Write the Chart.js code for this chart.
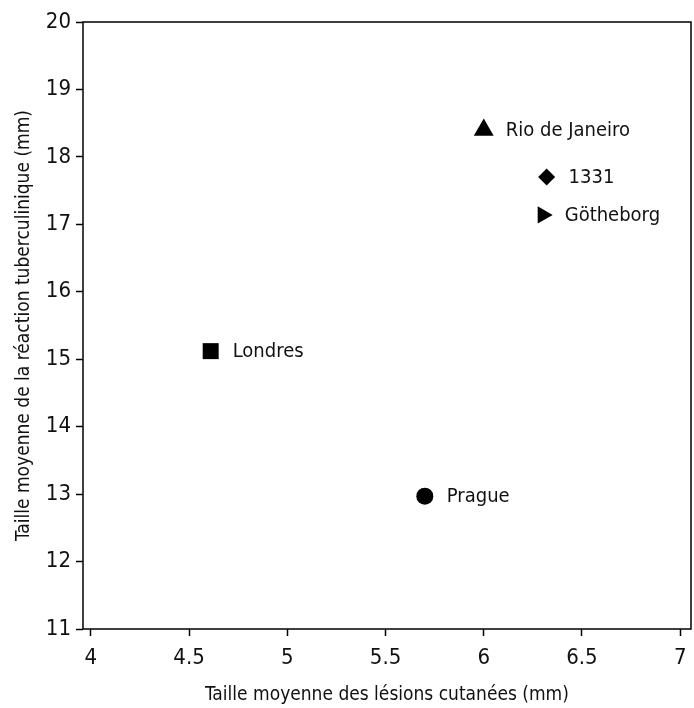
<!DOCTYPE html>
<html>
<head>
<meta charset="utf-8">
<script src="https://cdn.jsdelivr.net/npm/chart.js@4/dist/chart.umd.min.js"></script>
<style>
  body { margin: 0; background: #fff; }
  canvas { display: block; }
</style>
</head>
<body>
<canvas id="scatter" width="694" height="708"></canvas>
<script>
// data
var sites = ['Rio de Janeiro', '1331', 'Götheborg', 'Londres', 'Prague'];
var lesionSize = [6.0, 6.32, 6.30, 4.61, 5.70];     // x, mm
var reactionSize = [18.4, 17.7, 17.14, 15.12, 12.97]; // y, mm
var xTicks = [4, 4.5, 5, 5.5, 6, 6.5, 7];
var yTicks = [11, 12, 13, 14, 15, 16, 17, 18, 19, 20];

var markers = ['triangle', 'rectRot', 'triangle', 'rect', 'circle'];
var markerRot = [0, 0, 90, 0, 0];
var markerSize = [11.5, 8.5, 10, 11.3, 8.5];

var FONT = '"Liberation Sans Narrow", "Arial Narrow", "DejaVu Sans Condensed", sans-serif';

var points = sites.map(function (s, i) {
    return { x: lesionSize[i], y: reactionSize[i] };
});

// box round the plot + site names next to markers
var extras = {
    id: 'extras',
    afterDatasetsDraw: function (chart) {
        var c = chart.ctx, a = chart.chartArea;
        var xs = chart.scales.x, ys = chart.scales.y;
        c.save();
        c.strokeStyle = '#000';
        c.lineWidth = 1.5;
        c.strokeRect(a.left, a.top, a.right - a.left, a.bottom - a.top);
        c.fillStyle = '#111';
        c.font = '20px ' + FONT;
        c.textBaseline = 'middle';
        for (var i = 0; i < sites.length; i++) {
            c.fillText(sites[i], xs.getPixelForValue(lesionSize[i]) + 22, ys.getPixelForValue(reactionSize[i]) + 1);
        }
        c.restore();
    }
};

function plain(v) { return String(v); }

var ctx = document.getElementById('scatter').getContext('2d');
var chart = new Chart(ctx, {
    type: 'scatter',
    data: {
        datasets: [{
            data: points,
            pointStyle: markers,
            rotation: markerRot,
            radius: markerSize,
            hoverRadius: markerSize,
            backgroundColor: '#000',
            borderColor: '#000',
            borderWidth: 0
        }]
    },
    options: {
        responsive: false,
        animation: false,
        layout: { autoPadding: false, padding: { top: 22, right: 3, left: 0, bottom: 0 } },
        plugins: {
            legend: { display: false },
            tooltip: { enabled: false }
        },
        scales: {
            x: {
                type: 'linear',
                min: 3.96,
                max: 7.055,
                afterBuildTicks: function (s) { s.ticks = xTicks.map(function (v) { return { value: v }; }); },
                afterFit: function (s) { s.height = 79; s.paddingLeft = 0; s.paddingRight = 0; },
                grid: { drawOnChartArea: false, tickLength: 7, color: '#000', tickWidth: 1.5 },
                border: { display: false },
                ticks: { color: '#111', padding: 9, font: { family: FONT, size: 22 }, maxRotation: 0, callback: plain },
                title: {
                    display: true,
                    text: 'Taille moyenne des lésions cutanées (mm)',
                    color: '#111',
                    font: { family: FONT, size: 19 },
                    padding: { top: 0, bottom: 2 }
                }
            },
            y: {
                type: 'linear',
                min: 11,
                max: 20,
                afterBuildTicks: function (s) { s.ticks = yTicks.map(function (v) { return { value: v }; }); },
                afterFit: function (s) { s.width = 83; s.paddingTop = 0; s.paddingBottom = 0; },
                grid: { drawOnChartArea: false, tickLength: 7, color: '#000', tickWidth: 1.5 },
                border: { display: false },
                ticks: { color: '#111', padding: 5, font: { family: FONT, size: 22 }, callback: plain },
                title: {
                    display: true,
                    text: 'Taille moyenne de la réaction tuberculinique (mm)',
                    color: '#111',
                    font: { family: FONT, size: 19 },
                    padding: { top: 13, bottom: 0 }
                }
            }
        }
    },
    plugins: [extras]
});
</script>
</body>
</html>
